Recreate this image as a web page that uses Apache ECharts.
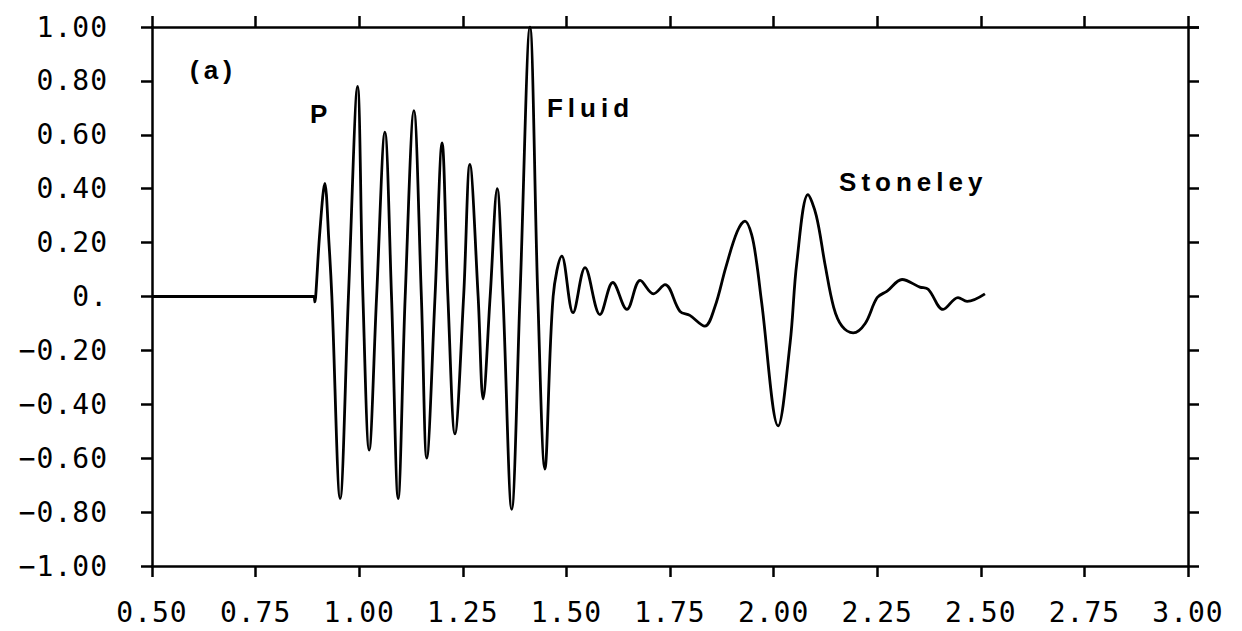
<!DOCTYPE html>
<html>
<head>
<meta charset="utf-8">
<script src="https://cdn.jsdelivr.net/npm/echarts@6/dist/echarts.min.js"></script>
<style>
  html, body { margin: 0; padding: 0; background: #fff; }
  #chart { width: 1242px; height: 631px; }
  /* wide tracking for the wave-arrival captions and the plotter-style tick numbers */
  #chart text[style*="Liberation Sans"],
  #chart text[font-family*="Liberation Sans"] { letter-spacing: 5px; }
  #chart text[style*="DejaVu Sans Mono"],
  #chart text[font-family*="DejaVu Sans Mono"] { letter-spacing: 1px; }
</style>
</head>
<body>
<div id="chart"></div>
<script>
// Time axis (ms) and normalised waveform amplitude
const times = [
  0.50, 0.890, 0.893, 0.895, 0.905, 0.917, 0.927, 0.934,
  0.954, 0.974, 0.996, 1.009, 1.024, 1.042, 1.062, 1.078,
  1.094, 1.111, 1.132, 1.150, 1.163, 1.183, 1.200, 1.214,
  1.231, 1.252, 1.267, 1.287, 1.299, 1.316, 1.333, 1.347,
  1.368, 1.388, 1.412, 1.431, 1.448, 1.468, 1.489, 1.516,
  1.545, 1.581, 1.612, 1.646, 1.678, 1.710, 1.738, 1.774,
  1.798, 1.834, 1.858, 1.885, 1.912, 1.931, 1.947, 1.959,
  1.971, 2.011, 2.040, 2.056, 2.083, 2.103, 2.124, 2.145,
  2.165, 2.192, 2.221, 2.250, 2.274, 2.310, 2.353, 2.373,
  2.409, 2.445, 2.467, 2.510
];
const amplitudes = [
  0.00, 0.00, -0.02, 0.00, 0.24, 0.42, 0.20, 0.00,
  -0.75, 0.00, 0.78, 0.00, -0.57, 0.00, 0.61, 0.00,
  -0.75, 0.00, 0.69, 0.00, -0.60, 0.00, 0.57, 0.00,
  -0.51, 0.00, 0.49, 0.00, -0.38, 0.00, 0.40, 0.00,
  -0.79, 0.00, 1.00, 0.00, -0.64, 0.00, 0.15, -0.06,
  0.107, -0.067, 0.052, -0.048, 0.060, 0.010, 0.044, -0.055,
  -0.070, -0.110, -0.040, 0.110, 0.240, 0.280, 0.230, 0.126,
  -0.020, -0.480, -0.170, 0.126, 0.378, 0.300, 0.120, -0.040,
  -0.110, -0.135, -0.100, -0.004, 0.020, 0.063, 0.035, 0.027,
  -0.048, -0.004, -0.018, 0.010
];
const xTicks = [0.50, 0.75, 1.00, 1.25, 1.50, 1.75, 2.00, 2.25, 2.50, 2.75, 3.00];
const yTicks = [-1.00, -0.80, -0.60, -0.40, -0.20, 0, 0.20, 0.40, 0.60, 0.80, 1.00];
const captions = ['(a)', 'P', 'Fluid', 'Stoneley'];

const monoFont = 'DejaVu Sans Mono';
const ink = '#000';

function yLabel(v) {
  if (Math.abs(v) < 1e-9) return '0.';
  return (v < 0 ? '\u2212' : '') + Math.abs(v).toFixed(2);
}

function axisBase(pos, showLabel, isX) {
  const ticks = isX ? xTicks : yTicks;
  return {
    type: 'value',
    position: pos,
    min: ticks[0],
    max: ticks[ticks.length - 1],
    interval: ticks[1] - ticks[0],
    axisLine: { show: true, onZero: false, lineStyle: { color: ink, width: 2.5 } },
    axisTick: { show: true, inside: false, length: 11, lineStyle: { color: ink, width: 2.5 } },
    splitLine: { show: false },
    axisLabel: {
      show: showLabel,
      color: ink,
      fontFamily: monoFont,
      fontSize: 28,
      margin: isX ? 32 : 44,
      formatter: isX ? (v => v.toFixed(2)) : yLabel
    }
  };
}

// caption anchors in data coordinates (left edge, vertical centre)
const captionAnchors = [[0.592, 0.840], [0.881, 0.677], [1.453, 0.700], [2.158, 0.425]];

const chart = echarts.init(document.getElementById('chart'), null, { renderer: 'svg' });
chart.setOption({
  animation: false,
  backgroundColor: '#fff',
  grid: { left: 152, right: 54, top: 27, bottom: 65, containLabel: false },
  xAxis: [axisBase('bottom', true, true), axisBase('top', false, true)],
  yAxis: [axisBase('left', true, false), axisBase('right', false, false)],
  series: [
    {
      type: 'line',
      data: times.map((t, i) => [t, amplitudes[i]]),
      smooth: 0.35,
      showSymbol: false,
      symbol: 'none',
      lineStyle: { color: ink, width: 2.8 },
      z: 3
    },
    {
      type: 'scatter',
      symbolSize: 0,
      silent: true,
      itemStyle: { opacity: 1, color: ink },
      data: captions.map((c, i) => ({ name: c, value: captionAnchors[i] })),
      label: {
        show: true,
        formatter: '{b}',
        position: [0, 0],
        align: 'left',
        verticalAlign: 'middle',
        color: ink,
        opacity: 1,
        fontFamily: 'Liberation Sans',
        fontWeight: 'bold',
        fontSize: 26
      }
    }
  ]
});
</script>
</body>
</html>
